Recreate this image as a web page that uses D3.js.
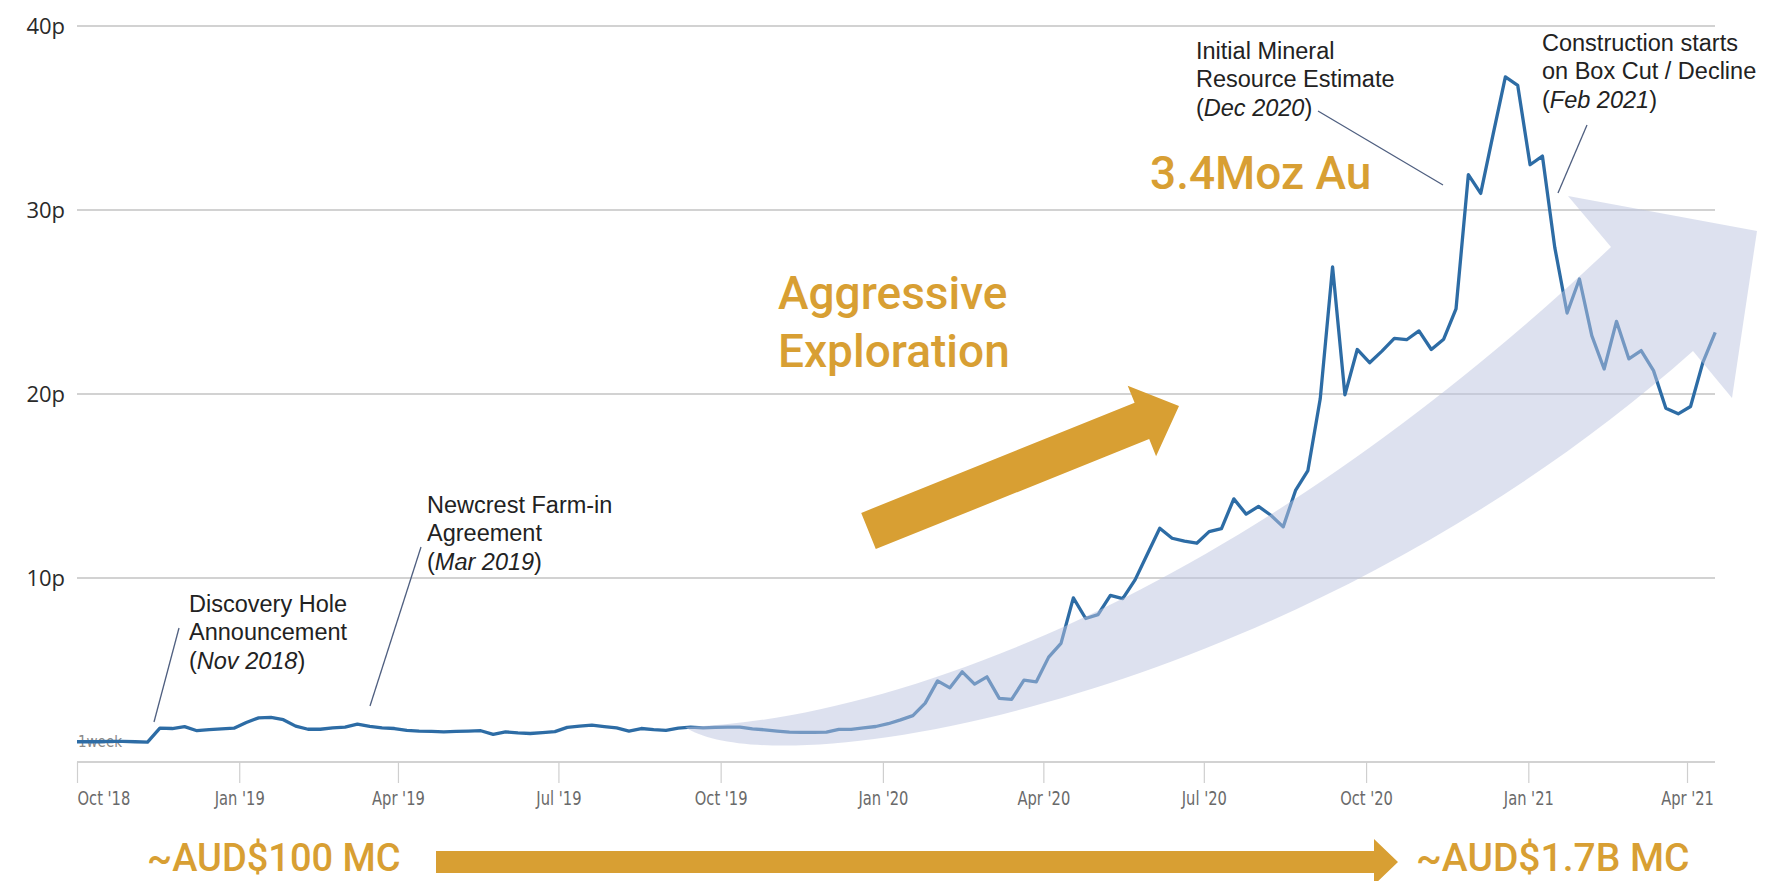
<!DOCTYPE html>
<html>
<head>
<meta charset="utf-8">
<style>
  body { margin: 0; background: #fff; }
  svg { display: block; }
</style>
</head>
<body>
<svg width="1777" height="881"></svg>
<script src="https://d3js.org/d3.v7.min.js"></script>
<script>
// weekly closing price (pence), first week ending 29 Sep 2018
var weekStart = new Date(2018, 8, 29);
var prices = [
  1.1, 1.1, 1.1, 1.12, 1.12, 1.1, 1.08,
  1.84, 1.82, 1.92, 1.7, 1.76, 1.8, 1.84,
  2.15, 2.4, 2.42, 2.3, 1.95, 1.78, 1.78,
  1.86, 1.9, 2.06, 1.94, 1.86, 1.82, 1.72,
  1.68, 1.66, 1.64, 1.66, 1.68, 1.7, 1.5,
  1.64, 1.58, 1.55, 1.6, 1.65, 1.88, 1.95,
  2.0, 1.92, 1.85, 1.68, 1.82, 1.76, 1.72,
  1.84, 1.9, 1.86, 1.88, 1.9, 1.9, 1.8,
  1.75, 1.68, 1.62, 1.61, 1.61, 1.62, 1.77,
  1.77, 1.85, 1.93, 2.08, 2.29, 2.52, 3.2,
  4.41, 4.03, 4.9, 4.23, 4.63, 3.46, 3.4,
  4.45, 4.36, 5.7, 6.45, 8.92, 7.8, 8.01,
  9.06, 8.88, 9.9, 11.3, 12.7, 12.16, 12.0,
  11.89, 12.52, 12.68, 14.3, 13.47, 13.89, 13.41,
  12.78, 14.76, 15.84, 19.74, 26.91, 19.95, 22.42,
  21.7, 22.33, 23.02, 22.95, 23.43, 22.42, 22.98,
  24.62, 31.92, 30.9, 34.1, 37.23, 36.77, 32.46,
  32.93, 27.97, 24.4, 26.25, 23.17, 21.36, 23.95,
  21.91, 22.36, 21.27, 19.23, 18.92, 19.32, 21.72, 23.35
];
var yTicks = [10, 20, 30, 40];
var xTicks = [
  new Date(2018, 9, 1), new Date(2019, 0, 1), new Date(2019, 3, 1), new Date(2019, 6, 1),
  new Date(2019, 9, 1), new Date(2020, 0, 1), new Date(2020, 3, 1), new Date(2020, 6, 1),
  new Date(2020, 9, 1), new Date(2021, 0, 1), new Date(2021, 3, 1)
];
var noteLines = [
  ["Discovery Hole", "Announcement"],
  ["Newcrest Farm-in", "Agreement"],
  ["Initial Mineral", "Resource Estimate"],
  ["Construction starts", "on Box Cut / Decline"]
];
var noteDates = ["Nov 2018", "Mar 2019", "Dec 2020", "Feb 2021"];
var themeLines = ["Aggressive", "Exploration"];
var resourceText = "3.4Moz Au";
var capStart = "~AUD$100 MC";
var capEnd = "~AUD$1.7B MC";

var data = prices.map(function(v, i) {
  return { date: d3.timeDay.offset(weekStart, 7 * i), price: v };
});

// layout
var svg = d3.select("svg");
var gold = "#d89f33";
var x = d3.scaleTime()
  .domain([new Date(2018, 9, 1), new Date(2021, 3, 18)])
  .range([77, 1717]);
var y = d3.scaleLinear()
  .domain([0, 40])
  .range([762, 26]);

var notePos = [
  { x: 189, y: 612, l: [179, 628, 154, 722] },
  { x: 427, y: 513, l: [421, 547, 370, 706] },
  { x: 1196, y: 59, l: [1318, 111, 1443, 185] },
  { x: 1542, y: 51, l: [1587, 125, 1558, 193] }
];

// grid lines (0 is the baseline)
svg.append("g").selectAll("line")
  .data([0].concat(yTicks))
  .join("line")
  .attr("x1", x.range()[0]).attr("x2", 1715)
  .attr("y1", function(d) { return y(d); })
  .attr("y2", function(d) { return y(d); })
  .attr("stroke", "#d2d2d2")
  .attr("stroke-width", 2);

svg.append("g").selectAll("text")
  .data(yTicks)
  .join("text")
  .attr("x", 65)
  .attr("y", function(d) { return y(d); })
  .attr("dy", "0.36em")
  .attr("text-anchor", "end")
  .style("font-family", "'Open Sans', sans-serif")
  .style("font-size", "22px")
  .attr("fill", "#2a2a2a")
  .text(function(d) { return d + "p"; });

// x axis
var xAxis = d3.axisBottom(x)
  .tickValues(xTicks)
  .tickSize(21)
  .tickPadding(9)
  .tickFormat(d3.timeFormat("%b '%y"));

var gx = svg.append("g")
  .attr("transform", "translate(0," + y(0) + ")")
  .call(xAxis);
gx.select(".domain").remove();
gx.selectAll(".tick line").attr("stroke", "#cfcfcf").attr("stroke-width", 1.2);
gx.selectAll(".tick text")
  .attr("fill", "#6a6a6a")
  .style("font-family", "'Liberation Sans Narrow', 'DejaVu Sans Condensed', sans-serif")
  .style("font-size", "19px")
  .attr("transform", "scale(0.86,1)");
gx.select(".tick text").attr("text-anchor", "start");

// "1week" stamp under the start of the line
svg.append("text")
  .attr("x", 78).attr("y", 747)
  .style("font-family", "'Liberation Sans Narrow', 'DejaVu Sans Condensed', sans-serif")
  .style("font-size", "15px")
  .attr("fill", "#8a8a8a")
  .text("1week");

// price line
svg.append("defs").append("clipPath")
  .attr("id", "clip")
  .append("rect")
  .attr("x", x.range()[0]).attr("y", 0)
  .attr("width", 1777).attr("height", 881);

var line = d3.line()
  .x(function(d) { return x(d.date); })
  .y(function(d) { return y(d.price); });

svg.append("path")
  .datum(data)
  .attr("clip-path", "url(#clip)")
  .attr("fill", "none")
  .attr("stroke", "#2d6ca5")
  .attr("stroke-width", 3.3)
  .attr("stroke-linejoin", "round")
  .attr("d", line);

// callouts
var notes = svg.append("g").selectAll("g")
  .data(noteLines)
  .join("g")
  .style("font-family", "'Liberation Sans', Arial, sans-serif")
  .style("font-size", "23.5px")
  .attr("fill", "#222");

notes.each(function(lines, i) {
  var g = d3.select(this), p = notePos[i];
  lines.forEach(function(t, j) {
    g.append("text").attr("x", p.x).attr("y", p.y + j * 28.4).text(t);
  });
  var t3 = g.append("text").attr("x", p.x).attr("y", p.y + 2 * 28.4);
  t3.append("tspan").text("(");
  t3.append("tspan").style("font-style", "italic").text(noteDates[i]);
  t3.append("tspan").text(")");
  g.append("line")
    .attr("x1", p.l[0]).attr("y1", p.l[1])
    .attr("x2", p.l[2]).attr("y2", p.l[3])
    .attr("stroke", "#4f5f80")
    .attr("stroke-width", 1.3);
});

// big translucent growth swoosh
svg.append("path")
  .attr("d", "M685,727 C900,720 1250,590 1611,247 L1568,196 L1757,231 L1732,398 L1693,351 C1300,700 780,790 685,727 Z")
  .attr("fill", "#bbc3df")
  .attr("fill-opacity", 0.5);

function arrowPoints(x1, y1, x2, y2, shaftW, headW, headL) {
  var dx = x2 - x1, dy = y2 - y1, L = Math.hypot(dx, dy);
  var ux = dx / L, uy = dy / L, px = -uy, py = ux;
  var bx = x2 - ux * headL, by = y2 - uy * headL;
  return [
    [x1 + px * shaftW / 2, y1 + py * shaftW / 2],
    [bx + px * shaftW / 2, by + py * shaftW / 2],
    [bx + px * headW / 2, by + py * headW / 2],
    [x2, y2],
    [bx - px * headW / 2, by - py * headW / 2],
    [bx - px * shaftW / 2, by - py * shaftW / 2],
    [x1 - px * shaftW / 2, y1 - py * shaftW / 2]
  ];
}

svg.append("polygon")
  .attr("points", arrowPoints(868.5, 531, 1179, 406, 39, 76, 40).join(" "))
  .attr("fill", gold);

svg.append("polygon")
  .attr("points", arrowPoints(436, 862, 1398, 862, 22, 46, 24).join(" "))
  .attr("fill", gold);

// gold captions
var cap = svg.append("g")
  .style("font-family", "Roboto, sans-serif")
  .style("font-weight", 500)
  .attr("fill", gold);

cap.selectAll("text.theme")
  .data(themeLines)
  .join("text")
  .attr("class", "theme")
  .attr("x", 778)
  .attr("y", function(d, i) { return 309 + i * 58; })
  .style("font-size", "46px")
  .text(function(d) { return d; });

cap.append("text").attr("x", 1150).attr("y", 189).style("font-size", "46px").text(resourceText);
cap.append("text").attr("x", 147).attr("y", 871).style("font-size", "38px").text(capStart);
cap.append("text").attr("x", 1416).attr("y", 871).style("font-size", "39px").text(capEnd);
</script>
</body>
</html>
